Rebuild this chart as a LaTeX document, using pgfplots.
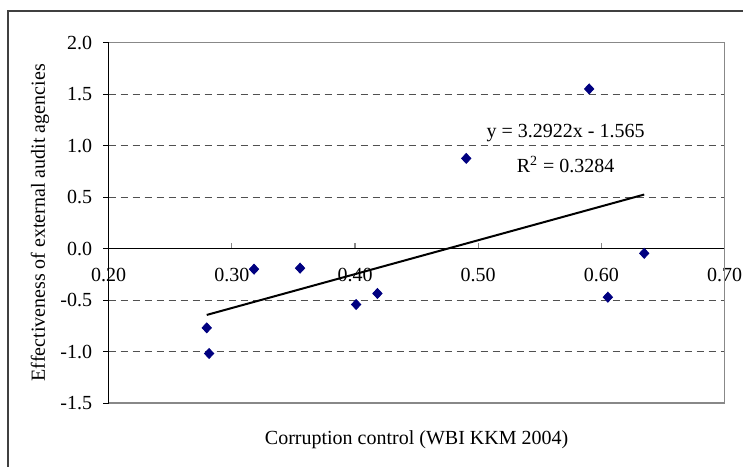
\documentclass[border=0pt]{standalone}
\usepackage{fontspec}
\setmainfont{Liberation Serif}
\usepackage{pgfplots}
\pgfplotsset{compat=1.18}
\definecolor{navy}{RGB}{0,0,128}
\definecolor{framegray}{RGB}{64,64,64}
\definecolor{boxgray}{RGB}{136,136,136}
\definecolor{gridgray}{RGB}{80,80,80}
\begin{document}
\begin{tikzpicture}
\useasboundingbox (0,0) rectangle (371.5pt,233pt);
\draw[framegray, line width=0.8pt] (4pt,-5pt) -- (4pt,227.5pt) -- (380pt,227.5pt);
\begin{axis}[
  at={(54.35pt,31.5pt)}, anchor=south west,
  scale only axis, width=307.9pt, height=180.15pt,
  xmin=0.2, xmax=0.7, ymin=-1.5, ymax=2,
  axis x line=middle, axis y line=left,
  axis line style={-, black, line width=0.6pt},
  hide obscured x ticks=false, hide obscured y ticks=false,
  xtick={0.2,0.3,0.4,0.5,0.6,0.7},
  ytick={-1.5,-1,-0.5,0,0.5,1,1.5,2},
  xtick align=inside, ytick align=outside,
  major tick length=2.8pt,
  tick style={black, line width=0.5pt},
  major x tick style={boxgray, line width=0.6pt},
  /pgf/number format/assume math mode=true,
  xticklabel={\pgfmathprintnumber[fixed,fixed zerofill,precision=2]{\tick}},
  yticklabel={\pgfmathprintnumber[fixed,fixed zerofill,precision=1]{\tick}},
  xticklabel style={anchor=center, yshift=-13.3pt},
  yticklabel style={anchor=east, xshift=-2pt},
  extra y ticks={-1,-0.5,0.5,1,1.5},
  extra y tick labels={},
  extra y tick style={grid=major, major tick length=0pt},
  grid style={gridgray, dash pattern=on 3.5pt off 2.5pt, line width=0.5pt},
  every axis x label/.style={at={(axis description cs:0.5,-0.1027)}, anchor=center},
  every axis y label/.style={at={(axis description cs:-0.1116,0.5)}, anchor=center, rotate=90},
  xlabel={Corruption control (WBI KKM 2004)},
  ylabel={Effectiveness of external audit agencies},
  clip=false,
]
\draw[boxgray, line width=0.75pt] (rel axis cs:0,0) -- (rel axis cs:1,0) -- (rel axis cs:1,1) -- (rel axis cs:0,1);
\addplot[only marks, mark=diamond*, mark size=2.5pt, color=navy, mark options={xscale=1.24}] coordinates {
  (0.2796,-0.770) (0.2815,-1.019) (0.3180,-0.200) (0.3554,-0.190)
  (0.4009,-0.543) (0.4182,-0.436) (0.6053,-0.472) (0.6348,-0.046)
  (0.5901,1.551) (0.4903,0.876)
};
\addplot[black, line width=1pt] coordinates {(0.2796,-0.6445) (0.6348,0.5249)};
\node at (axis cs:0.571,1.118) {y = 3.2922x - 1.565};
\node at (axis cs:0.571,0.817) {R\textsuperscript{2} = 0.3284};
\end{axis}
\end{tikzpicture}
\end{document}
